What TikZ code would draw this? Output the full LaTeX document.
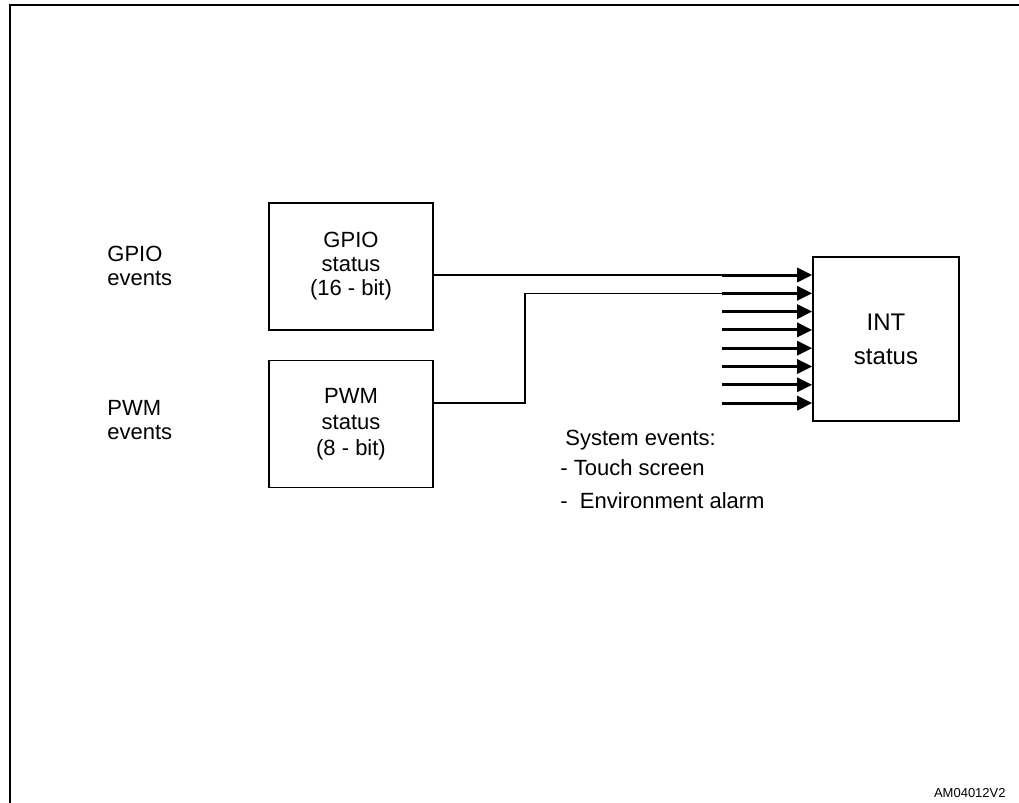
\documentclass[tikz,border=0pt]{standalone}
\usepackage{fontspec}
\setmainfont{Liberation Sans}
\usetikzlibrary{arrows.meta,positioning}

\begin{document}
\begin{tikzpicture}[x=0.5pt, y=-0.5pt, >={Triangle[length=7.5pt,width=7pt]}, font=\fontsize{11}{12}\selectfont]
    % Styles
    \tikzstyle{block} = [rectangle, draw, line width=0.8pt, align=center, inner sep=0pt]
    \tikzstyle{events} = [align=left, anchor=west, inner sep=0pt]
    \tikzstyle{wire} = [draw, line width=0.7pt]
    \tikzstyle{bus} = [draw, ->, line width=1.5pt]

    \useasboundingbox (0,0) rectangle (1019,803);

    % Frame
    \draw [line width=1pt] (10,803) -- (10,5) -- (1019,5);

    % Nodes
    \node [block, minimum width=82pt, minimum height=63.5pt] (gpio) at (351,266.5) {GPIO\\status\\(16 - bit)};
    \node [block, minimum width=82pt, minimum height=63.5pt, below=14.5pt of gpio] (pwm) {PWM\\[1pt]status\\[1pt](8 - bit)};
    \node [block, minimum width=73pt, minimum height=82pt, font=\fontsize{12}{14}\selectfont] (int) at (886,339) {INT\\[3pt]status};
    \node [events] (gpioev) at (107,266) {GPIO\\events};
    \node [events] (pwmev) at (107,420) {PWM\\events};
    \node [events, anchor=north west] (sysev) at (560,430) {\hspace*{2.5pt}System events:\\[3pt]- Touch screen\\[4.5pt]-\ \ Environment alarm};
    \node [anchor=base east, inner sep=0pt, font=\fontsize{6.5}{8}\selectfont] (code) at (1006,797) {AM04012V2};

    % Inputs of INT
    \foreach \i in {1,...,8}
        \coordinate (in\i) at (722, {275+(\i-1)*18.3});
    \foreach \i in {1,...,8}
        \path [bus] (in\i) -- (in\i -| int.west);

    % Status wires
    \path [wire] (gpio.east |- in1) -- (in1);
    \path [wire] (pwm.east |- in8) -- ++(91,0) |- (in2);

\end{tikzpicture}
\end{document}
